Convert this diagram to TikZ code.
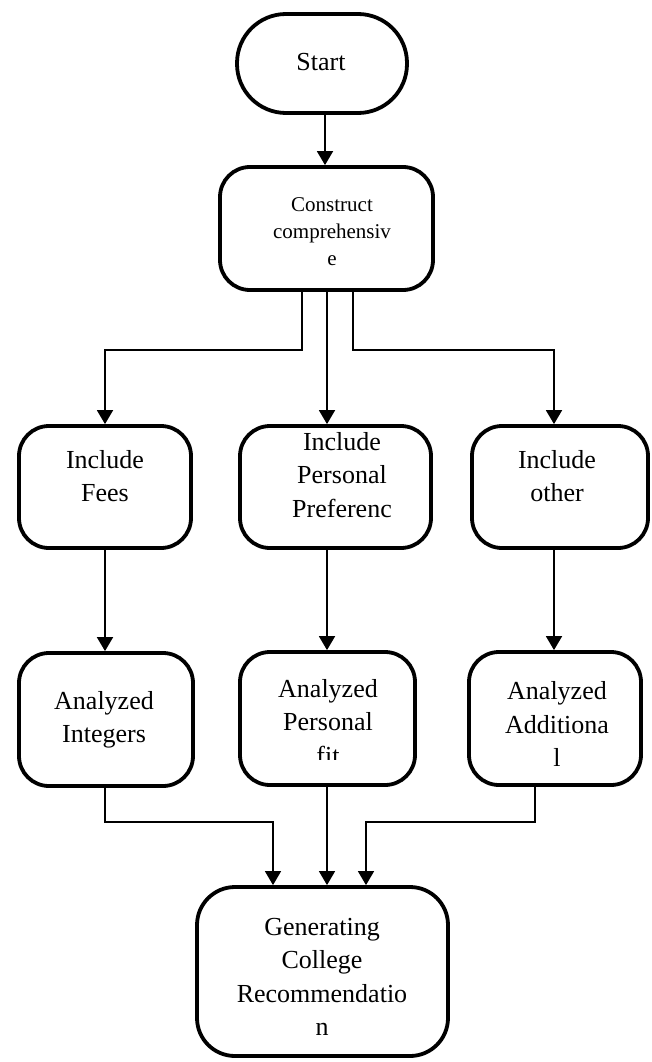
\documentclass[tikz,border=0pt]{standalone}
\usepackage{fontspec}
\setmainfont{Liberation Serif}
\usetikzlibrary{arrows.meta,fit}
\begin{document}
\begin{tikzpicture}[x=1pt,y=-1pt,
  box/.style={draw,line width=3.8pt,rounded corners=30pt,inner sep=0pt},
  lbl/.style={align=center,font=\fontsize{26}{33.5}\selectfont,inner sep=0pt},
  lblsmall/.style={align=center,font=\fontsize{21}{27}\selectfont,inner sep=0pt},
  conn/.style={line width=1.8pt,-{Triangle[width=16pt,length=14pt]}},
  connb/.style={line width=1.5pt,-{Triangle[width=16pt,length=14pt]}}]
\useasboundingbox (0,0) rectangle (651,1062);
% boxes
\node[box,rounded corners=49pt,fit={(237,14) (407,113)}] (start) {};
\node[box,fit={(220,167) (433,290)}] (construct) {};
\node[box,fit={(19,426) (191,548)}] (fees) {};
\node[box,fit={(240,426) (431,548)}] (pers) {};
\node[box,fit={(472,426) (648,548)}] (other) {};
\node[box,fit={(19,653) (193,786)}] (integ) {};
\node[box,fit={(240,652) (415,785)}] (pfit) {};
\node[box,fit={(469,652) (641,785)}] (addl) {};
\node[box,rounded corners=38pt,fit={(197,887) (448,1056)}] (gen) {};
% texts
\node[lbl] (tstart) at (321,62) {Start};
\node[lblsmall] (tconstruct) at (332,232) {Construct\\comprehensiv\\e};
\node[lbl] (tfees) at (105,476) {Include\\Fees};
\node[lbl] (tpers) at (342,475) {Include\\Personal\\Preferenc};
\node[lbl] (tother) at (557,476) {Include\\other};
\node[lbl] (tinteg) at (104,720) {Analyzed\\Integers};
\begin{scope}
\clip (230,660) rectangle (430,759);
\node[lbl] (tpfit) at (328,722) {Analyzed\\Personal\\fit};
\end{scope}
\node[lbl] (taddl) at (557,724) {Analyzed\\Additiona\\l};
\node[lbl] (tgen) at (322,977) {Generating\\College\\Recommendatio\\n};
% connectors
\draw[conn] (325,0 |- start.south) -- (325,0 |- construct.north);
\draw[conn] (302,0 |- construct.south) -- (302,350) -- (105,350) -- (105,0 |- fees.north);
\draw[conn] (327,0 |- construct.south) -- (327,0 |- pers.north);
\draw[conn] (353,0 |- construct.south) -- (353,350) -- (554,350) -- (554,0 |- other.north);
\draw[conn] (105,0 |- fees.south) -- (105,0 |- integ.north);
\draw[conn] (327,0 |- pers.south) -- (327,0 |- pfit.north);
\draw[conn] (554,0 |- other.south) -- (554,0 |- addl.north);
\draw[connb] (105,0 |- integ.south) -- (105,822) -- (273,822) -- (273,0 |- gen.north);
\draw[connb] (327,0 |- pfit.south) -- (327,0 |- gen.north);
\draw[connb] (535,0 |- addl.south) -- (535,822) -- (366,822) -- (366,0 |- gen.north);
\end{tikzpicture}
\end{document}
